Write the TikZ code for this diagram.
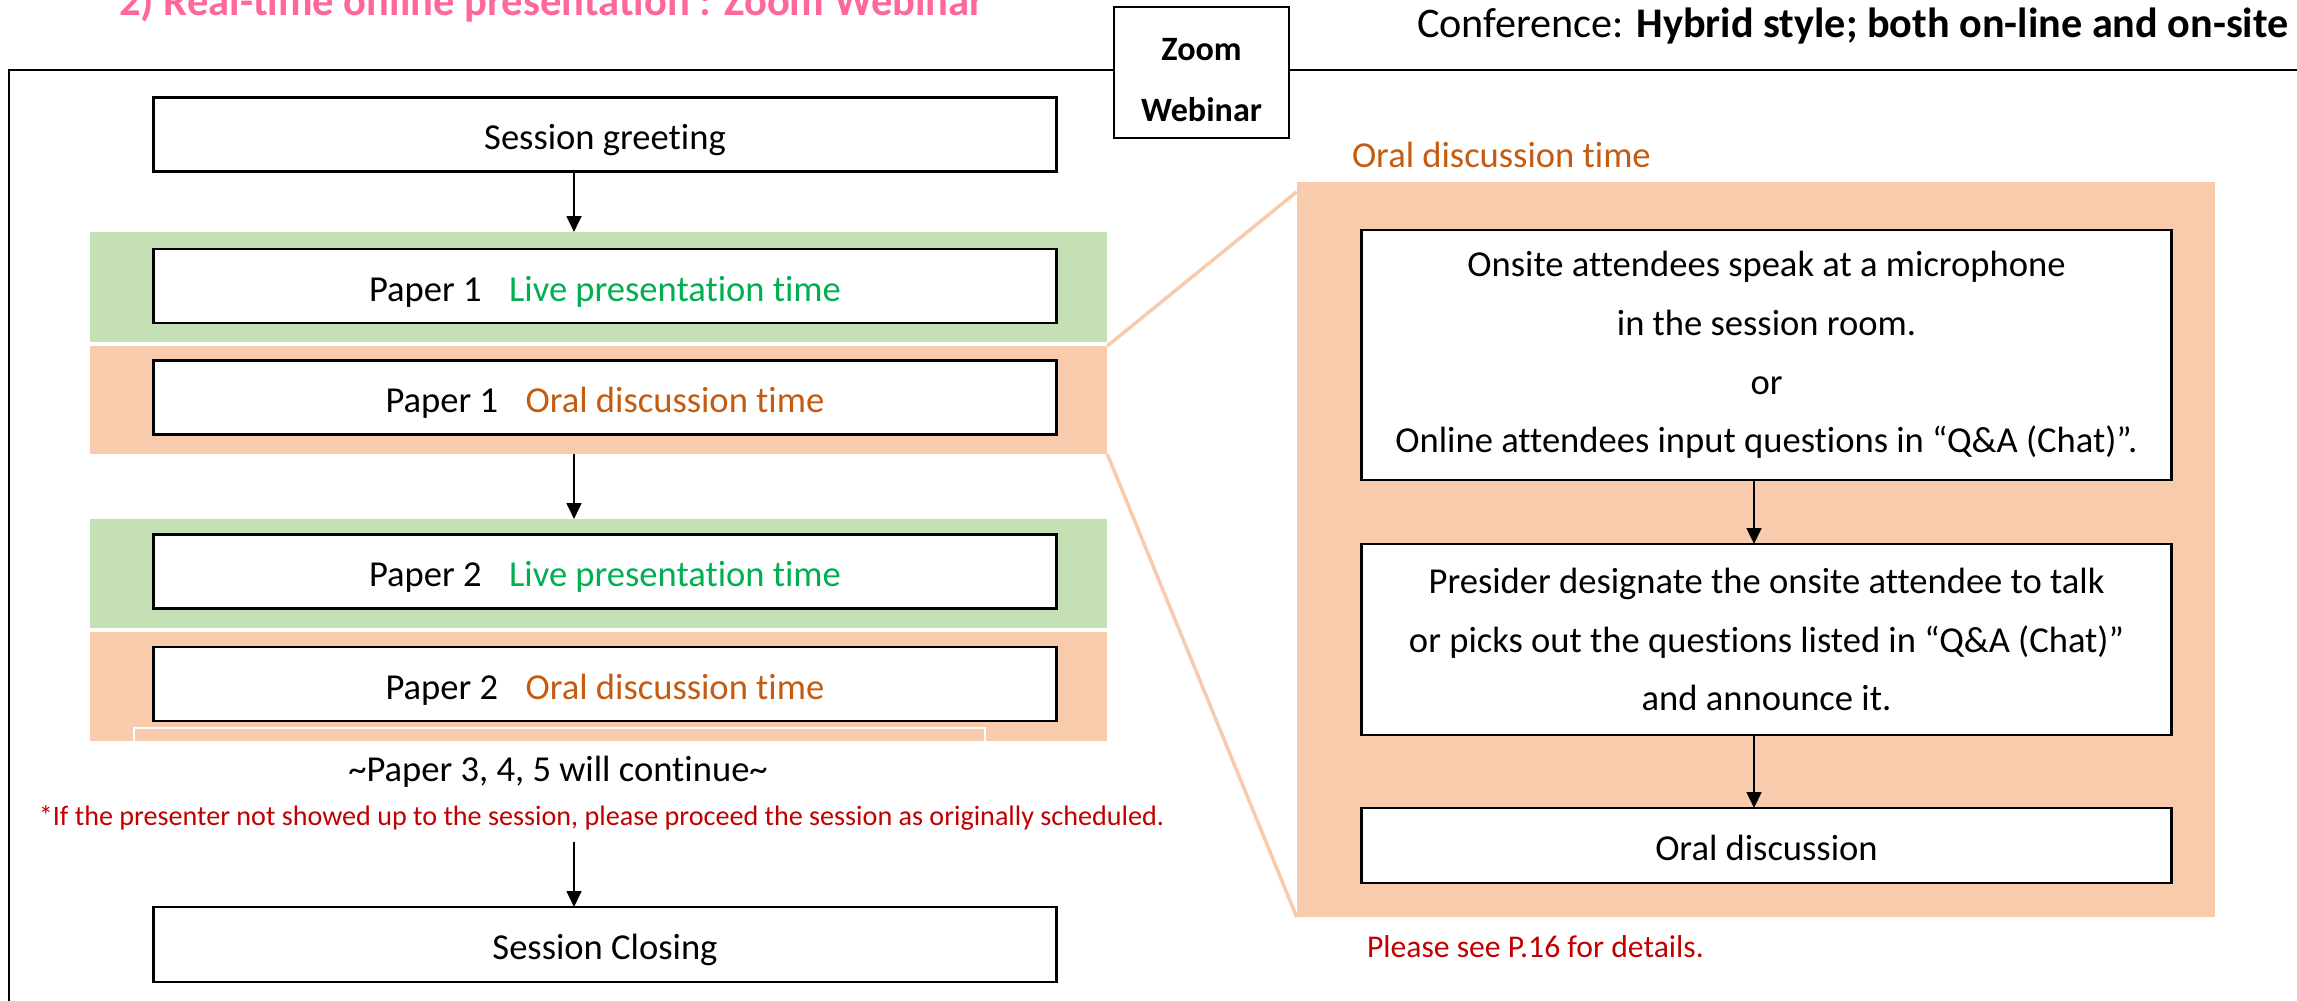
\documentclass[tikz,border=0pt]{standalone}
\usepackage{fontspec}
\setmainfont{Carlito}[Ligatures=NoCommon]
\usetikzlibrary{positioning,arrows.meta}
\definecolor{bandgreen}{HTML}{C5E0B4}
\definecolor{bandpeach}{HTML}{F8CBAD}
\definecolor{livegreen}{HTML}{00B050}
\definecolor{oralorange}{HTML}{C55A11}
\definecolor{notered}{HTML}{C00000}
\definecolor{titlepink}{HTML}{FF6699}

\begin{document}
\begin{tikzpicture}[x=0.01cm,y=-0.01cm,
  every node/.style={inner sep=0pt,outer sep=0pt},
  txt/.style={font=\fontsize{10.4}{16.7}\selectfont},
  stepbox/.style={txt,draw,line width=0.75pt,fill=white,minimum width=9.02cm,minimum height=0.74cm,
                  text height=8.8pt,text depth=0pt,align=center},
  qbox/.style={stepbox,minimum width=8.09cm,text height=,text depth=},
  band/.style={minimum width=10.17cm,minimum height=1.09cm},
  flow/.style={-{Triangle[length=4.5pt,width=4.2pt]},line width=0.6pt},
  zoomline/.style={bandpeach,line width=1pt}]
  \useasboundingbox (0,0) rectangle (2297,1001);

  % title and frame
  \node[anchor=base,text=titlepink,font=\fontsize{12.1}{14}\selectfont\bfseries] (title) at (552,16) {2) Real-time online presentation : Zoom Webinar};
  \node[anchor=base west,font=\fontsize{12}{14}\selectfont] (conf) at (1417,38) {Conference: \textbf{Hybrid style; both on-line and on-site}};
  \draw[line width=0.8pt] (9,1001) -- (9,70) -- (1114,70);
  \draw[line width=0.8pt] (1289,70) -- (2297,70);
  \node[draw,fill=white,line width=0.7pt,minimum width=1.75cm,minimum height=1.31cm] (zoom) at (1201.5,72.5) {};
  \node[align=center,font=\fontsize{9.7}{17.5}\selectfont\bfseries] (zoomtxt) at (1201.5,80) {Zoom\\Webinar};

  % left column
  \node[band,fill=bandgreen,minimum height=1.10cm] (live1) at (598.5,287) {};
  \node[band,fill=bandpeach,minimum height=1.08cm] (oral1) at (598.5,400) {};
  \node[band,fill=bandgreen] (live2) at (598.5,573.5) {};
  \node[band,fill=bandpeach] (oral2) at (598.5,686.5) {};
  \draw[white,line width=0.5pt] (134,728) rectangle (985,800);

  \node[stepbox] (greet) at (605,134.5) {Session greeting};
  \node[stepbox] (p1live) at (605,286) {Paper 1\hspace{0.75em}\textcolor{livegreen}{Live presentation time}};
  \node[stepbox] (p1oral) at (605,397.5) {Paper 1\hspace{0.75em}\textcolor{oralorange}{Oral discussion time}};
  \node[stepbox] (p2live) at (605,571.5) {Paper 2\hspace{0.75em}\textcolor{livegreen}{Live presentation time}};
  \node[stepbox] (p2oral) at (605,684) {Paper 2\hspace{0.75em}\textcolor{oralorange}{Oral discussion time}};
  \node[txt] (more) at (558,772) {\textasciitilde Paper 3, 4, 5 will continue\textasciitilde};
  \node[text=notered,font=\fontsize{8}{9}\selectfont] (note) at (601.5,818) {*If the presenter not showed up to the session, please proceed the session as originally scheduled.};
  \node[stepbox,minimum height=0.75cm] (closing) at (605,944.5) {Session Closing};

  \coordinate (ax) at (574,0);
  \coordinate (noteend) at (574,842);
  \draw[flow] (greet.south -| ax) -- (live1.north -| ax);
  \draw[flow] (oral1.south -| ax) -- (live2.north -| ax);
  \draw[flow] (noteend) -- (closing.north -| ax);

  % right detail
  \node[fill=bandpeach,minimum width=9.18cm,minimum height=7.35cm] (discuss) at (1756,549.5) {};
  \draw[zoomline] (oral1.north east) -- ([yshift=-0.1cm]discuss.north west);
  \draw[zoomline] (oral1.south east) -- (discuss.south west);
  \node[txt,anchor=west,text=oralorange] (disclabel) at (1352,155) {Oral discussion time};

  \node[qbox,minimum height=2.50cm] (speak) at (1766.5,355) {Onsite attendees speak at a microphone\\in the session room.\\or\\Online attendees input questions in “Q\&A (Chat)”.};
  \node[qbox,minimum height=1.91cm] (pick) at (1766.5,639.5) {Presider designate the onsite attendee to talk\\or picks out the questions listed in “Q\&A (Chat)”\\and announce it.};
  \node[stepbox,minimum width=8.09cm,minimum height=0.75cm] (oraldisc) at (1766.5,845.5) {Oral discussion};
  \coordinate (bx) at (1754,0);
  \draw[flow] (speak.south -| bx) -- (pick.north -| bx);
  \draw[flow] (pick.south -| bx) -- (oraldisc.north -| bx);
  \node[anchor=west,text=notered,font=\fontsize{9}{11}\selectfont] (seepage) at (1367,947) {Please see P.16 for details.};
\end{tikzpicture}
\end{document}
